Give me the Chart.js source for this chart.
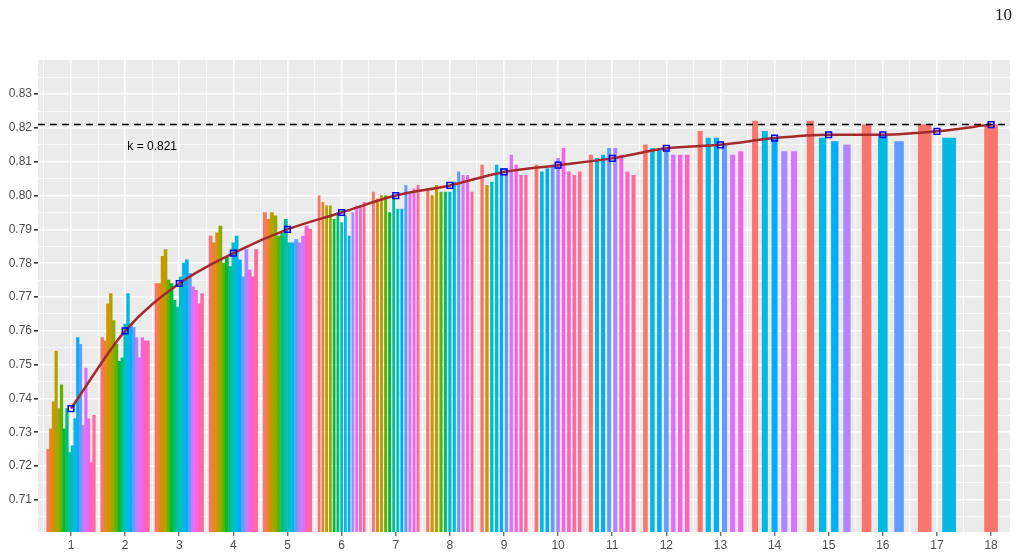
<!DOCTYPE html>
<html><head><meta charset="utf-8">
<script src="https://cdn.jsdelivr.net/npm/chart.js@4"></script>
<style>
body{margin:0;background:#fff;}
#wrap{position:relative;width:1020px;height:557px;}
#pg{position:absolute;right:8px;top:5px;font-family:"Liberation Serif","DejaVu Serif",serif;font-size:17px;color:#222;}
</style></head>
<body><div id="wrap"><div id="pg">10</div><canvas id="c" width="1020" height="557"></canvas></div>
<script>
const groups = [1,2,3,4,5,6,7,8,9,10,11,12,13,14,15,16,17,18];
const barValues = [
 [.725,.731,.739,.754,.737,.744,.731,.737,.724,.726,.734,.758,.756,.732,.749,.734,.721,.735],
 [.758,.757,.768,.771,.763,.756,.751,.752,.762,.771,.762,.761,.758,.752,.758,.757,.757],
 [.774,.774,.782,.784,.775,.774,.769,.767,.776,.780,.781,.777,.773,.772,.768,.771],
 [.788,.786,.789,.791,.780,.782,.779,.786,.788,.781,.776,.784,.778,.776,.784],
 [.795,.793,.795,.794,.788,.789,.793,.786,.786,.787,.786,.788,.791,.790],
 [.800,.798,.797,.797,.793,.795,.792,.794,.788,.795,.797,.797,.798],
 [.801,.799,.800,.800,.795,.800,.796,.796,.803,.801,.802,.803],
 [.802,.800,.803,.801,.801,.801,.804,.807,.806,.806,.801],
 [.809,.803,.804,.809,.808,.808,.812,.809,.806,.806],
 [.809,.807,.808,.809,.811,.814,.807,.806,.807],
 [.812,.811,.812,.814,.814,.812,.807,.806],
 [.815,.814,.814,.814,.812,.812,.812],
 [.819,.817,.817,.815,.812,.813],
 [.822,.819,.817,.813,.813],
 [.822,.817,.816,.815],
 [.821,.818,.816],
 [.821,.817],
 [.821]
];
const colorIdx = [
 null,null,null,null,null,null,null,null,
 [0,2,9,10,11,12,14,15,16,17],
 [0,10,11,12,13,15,16,17,17],
 [0,10,11,12,13,15,16,17],
 [0,10,11,12,14,15,16],
 [0,10,11,12,14,15],
 [0,10,11,13,14],
 [0,10,11,13],
 [0,10,12],
 [0,10],
 [0]
];
const meanValues = [.737,.760,.774,.783,.790,.795,.800,.803,.807,.809,.811,.814,.815,.817,.818,.818,.819,.821];
const kValue = 0.821;
const yTicks = [0.71,0.72,0.73,0.74,0.75,0.76,0.77,0.78,0.79,0.80,0.81,0.82,0.83];

function hcl(h){
  const L=65,C=100;const Xn=95.047,Yn=100,Zn=108.883;
  const Y=Math.pow((L+16)/116,3)*100;
  const un=4*Xn/(Xn+15*Yn+3*Zn), vn=9*Yn/(Xn+15*Yn+3*Zn);
  const U=C*Math.cos(h*Math.PI/180),V=C*Math.sin(h*Math.PI/180);
  const u=U/(13*L)+un, v=V/(13*L)+vn;
  const X=Y*9*u/(4*v), Z=Y*(12-3*u-20*v)/(4*v);
  const x=X/100,y=Y/100,z=Z/100;
  let r=3.2404542*x-1.5371385*y-0.4985314*z;
  let g=-0.9692660*x+1.8760108*y+0.0415560*z;
  let b=0.0556434*x-0.2040259*y+1.0572252*z;
  const gm=c=>{c=c<=0.0031308?12.92*c:1.055*Math.pow(c,1/2.4)-0.055;return Math.round(Math.max(0,Math.min(1,c))*255);};
  return `rgb(${gm(r)},${gm(g)},${gm(b)})`;
}
const palette = Array.from({length:18},(_, i)=>hcl(15+20*i));
const pxPerUnit = 54.1;
const datasets = barValues.map((vals,gi)=>{
  const n=vals.length, slot=0.9/n;
  const idx = colorIdx[gi] || vals.map((_,i)=>n===1?0:Math.round(i*17/(n-1)));
  const thick = n>=14 ? slot*pxPerUnit*0.95 : Math.min(slot*pxPerUnit*0.55, 13);
  return {type:'bar',data:vals.map((v,i)=>({x:groups[gi]-0.45+slot*(i+0.5),y:v})),
    backgroundColor:idx.map(k=>palette[k]),barThickness:thick,grouped:false,order:2,base:0.69};
});
datasets.push({type:'line',data:meanValues.map((v,i)=>({x:groups[i],y:v})),borderColor:'#A52A2A',borderWidth:2.5,
  tension:0.35,cubicInterpolationMode:'monotone',pointStyle:'rect',pointRadius:4,pointBorderColor:'#0000ff',pointBackgroundColor:'rgba(0,0,0,0)',pointBorderWidth:1.5,order:1});

const bgPlugin={id:'bg',beforeDraw(c){const a=c.chartArea,x=c.ctx;x.save();x.fillStyle='#EBEBEB';x.fillRect(a.left,a.top,a.right-a.left,a.bottom-a.top);x.restore();},
 afterDatasetsDraw(c){const a=c.chartArea,x=c.ctx,ys=c.scales.y.getPixelForValue(kValue);x.save();x.setLineDash([7,5]);x.strokeStyle='#000';x.lineWidth=1.5;x.beginPath();x.moveTo(a.left,ys);x.lineTo(a.right,ys);x.stroke();x.setLineDash([]);
 x.fillStyle='#000';x.font='12px "Liberation Sans",Arial';x.textAlign='center';x.textBaseline='middle';x.fillText('k = '+kValue,c.scales.x.getPixelForValue(2.5),c.scales.y.getPixelForValue(0.8146));x.restore();}};

new Chart(document.getElementById('c'),{
 data:{datasets},
 options:{responsive:false,animation:false,layout:{padding:{top:60,right:10,left:0,bottom:0}},
  plugins:{legend:{display:false},tooltip:{enabled:false}},
  scales:{
   x:{type:'linear',offset:false,min:0.39,max:18.35,afterFit(s){s.height=25;},
     afterBuildTicks(s){const t=[];for(let v=0.5;v<=18.01;v+=0.5)t.push({value:v});s.ticks=t;},
     ticks:{autoSkip:false,color:'#4d4d4d',font:{size:12,family:'"Liberation Sans",Arial'},padding:2,callback:v=>Number.isInteger(v)?String(v):''},
     grid:{offset:false,color:'#fff',lineWidth:c=>c.tick&&Number.isInteger(c.tick.value)?1.6:0.7,drawTicks:true,tickLength:4,tickColor:c=>c.tick&&Number.isInteger(c.tick.value)?'#333':'rgba(0,0,0,0)',tickWidth:1},border:{display:false}},
   y:{min:0.7005,max:0.8401,afterFit(s){s.width=38;},
     afterBuildTicks(s){const t=[];for(let v=0.705;v<=0.836;v+=0.005)t.push({value:Math.round(v*1000)/1000});s.ticks=t;},
     ticks:{autoSkip:false,color:'#4d4d4d',font:{size:12,family:'"Liberation Sans",Arial'},padding:2,callback:v=>yTicks.some(t=>Math.abs(t-v)<1e-6)?v.toFixed(2):''},
     grid:{color:'#fff',lineWidth:c=>c.tick&&Math.round(c.tick.value*1000)%10===0?1.6:0.7,tickLength:4,tickColor:c=>c.tick&&Math.round(c.tick.value*1000)%10===0?'#333':'rgba(0,0,0,0)'},border:{display:false}}
  }},
 plugins:[bgPlugin]
});
</script></body></html>
